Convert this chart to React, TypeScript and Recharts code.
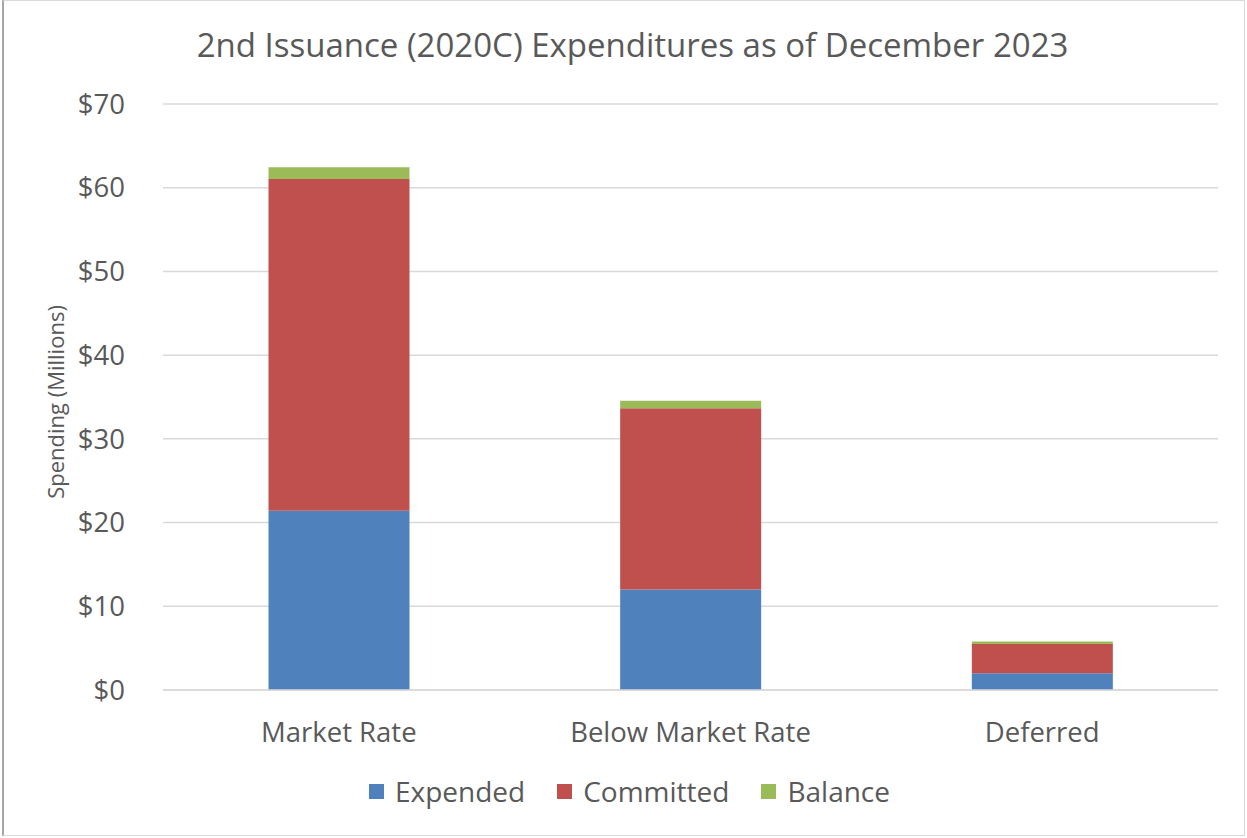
import React from 'react';
import { BarChart, Bar, XAxis, YAxis, CartesianGrid, Label } from 'recharts';

const categories = ['Market Rate', 'Below Market Rate', 'Deferred'];
const expended = [21.4, 12.0, 2.0];
const committed = [39.65, 21.65, 3.5];
const balance = [1.4, 0.9, 0.28];
const yTicks = [0, 10, 20, 30, 40, 50, 60, 70];

const series = [
  { key: 'Expended', color: '#4F81BD' },
  { key: 'Committed', color: '#C0504D' },
  { key: 'Balance', color: '#9BBB59' },
];

const data = categories.map((name, i) => ({
  name,
  Expended: expended[i],
  Committed: committed[i],
  Balance: balance[i],
}));

const FONT = '"Open Sans", sans-serif';
const TEXT = '#595959';

export default function App() {
  return (
    <div style={{ position: 'relative', width: 1247, height: 838, background: '#fff', fontFamily: FONT }}>
      <style>{'body{margin:0}'}</style>
      <div
        style={{
          position: 'absolute',
          left: 2,
          top: 0,
          width: 1243,
          height: 836,
          border: '1px solid #d9d9d9',
          borderLeft: '2px solid #a6a6a6',
          boxSizing: 'border-box',
        }}
      />
      <div
        style={{
          position: 'absolute',
          top: 22,
          left: 0,
          width: 1265,
          textAlign: 'center',
          fontSize: 33,
          color: TEXT,
          fontFamily: FONT,
        }}
      >
        2nd Issuance (2020C) Expenditures as of December 2023
      </div>
      <BarChart
        width={1247}
        height={838}
        data={data}
        margin={{ top: 104, right: 29, left: 50, bottom: 118 }}
        barCategoryGap="30%"
        style={{ position: 'absolute', top: 0, left: 0 }}
      >
        <CartesianGrid vertical={false} stroke="#d9d9d9" strokeWidth={1.5} />
        <XAxis
          dataKey="name"
          axisLine={{ stroke: '#d9d9d9', strokeWidth: 1.5 }}
          tickLine={false}
          tickSize={0}
          tickMargin={32}
          height={30}
          tick={{ fill: TEXT, fontSize: 27.5, fontFamily: FONT }}
        />
        <YAxis
          width={113}
          domain={[0, 70]}
          ticks={yTicks}
          axisLine={false}
          tickLine={false}
          tickSize={0}
          tickMargin={38}
          tickFormatter={(v: number) => `$${v}`}
          tick={{ fill: TEXT, fontSize: 27.5, fontFamily: FONT }}
        >
          <Label
            value="Spending (Millions)"
            angle={-90}
            position="center"
            dx={-50}
            dy={5}
            style={{ fill: TEXT, fontSize: 22, fontFamily: FONT }}
          />
        </YAxis>
        {series.map((s) => (
          <Bar key={s.key} dataKey={s.key} stackId="a" fill={s.color} isAnimationActive={false} />
        ))}
      </BarChart>
      <div
        style={{
          position: 'absolute',
          top: 772,
          left: 0,
          width: 1259,
          display: 'flex',
          justifyContent: 'center',
          fontSize: 28,
          color: TEXT,
        }}
      >
        {series.map((s) => (
          <div key={s.key} style={{ display: 'flex', alignItems: 'center', margin: '0 16px' }}>
            <span style={{ width: 15, height: 15, background: s.color, display: 'inline-block', marginRight: 11 }} />
            <span>{s.key}</span>
          </div>
        ))}
      </div>
    </div>
  );
}
